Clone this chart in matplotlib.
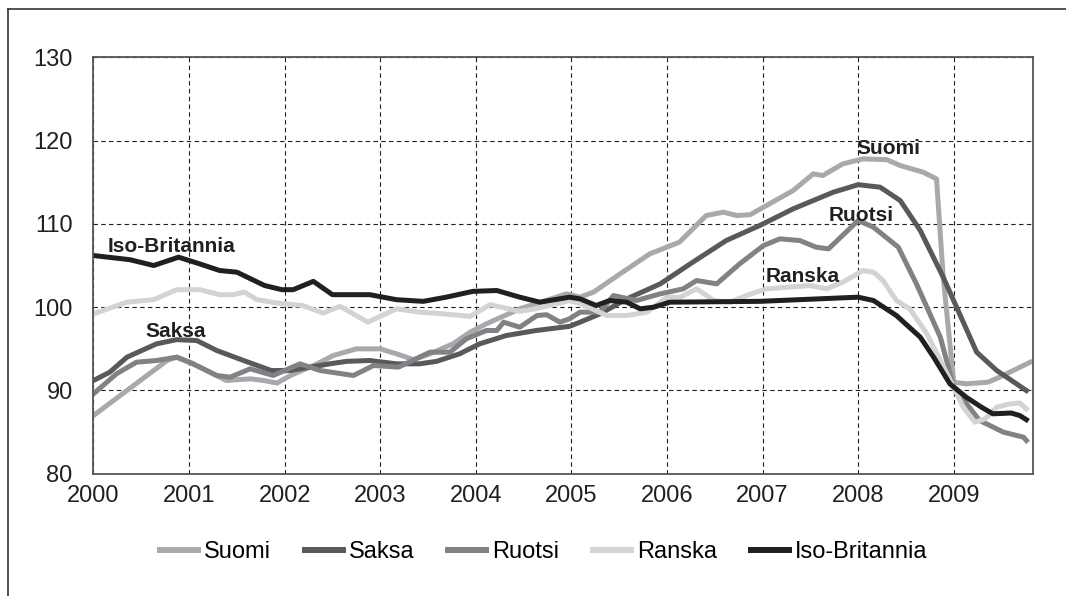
import matplotlib
matplotlib.use("Agg")
import matplotlib.pyplot as plt
from matplotlib.lines import Line2D

plt.rcParams["font.family"] = ["Liberation Sans", "DejaVu Sans"]

# decimal years / index values
fi_t = [2000.0, 2000.77, 2000.87, 2001.01, 2001.39, 2001.64, 2001.78, 2001.92, 2002.06,
        2002.34, 2002.51, 2002.75, 2003.0, 2003.17, 2003.35, 2003.52, 2003.76, 2003.94,
        2004.11, 2004.46, 2004.95, 2005.09, 2005.23, 2005.51, 2005.82, 2006.13, 2006.41,
        2006.59, 2006.73, 2006.87, 2007.32, 2007.53, 2007.63, 2007.84, 2008.05, 2008.30,
        2008.44, 2008.68, 2008.82, 2008.89, 2009.0, 2009.13, 2009.36, 2009.48, 2009.80]
fi_v = [87.0, 93.6, 94.0, 93.4, 91.2, 91.4, 91.2, 90.9, 91.8,
        93.2, 94.2, 95.0, 95.0, 94.4, 93.7, 94.4, 95.6, 97.0,
        98.0, 99.8, 101.6, 101.2, 101.8, 104.0, 106.4, 107.8, 111.0,
        111.4, 111.0, 111.1, 114.0, 116.0, 115.8, 117.2, 117.8, 117.7,
        117.0, 116.2, 115.4, 103.6, 91.0, 90.8, 91.0, 91.6, 93.4]

de_t = [2000.0, 2000.17, 2000.35, 2000.66, 2000.87, 2001.08, 2001.29, 2001.57, 2001.86,
        2002.06, 2002.27, 2002.47, 2002.65, 2002.89, 2003.17, 2003.41, 2003.59, 2003.83,
        2004.04, 2004.32, 2004.63, 2004.98, 2005.09, 2005.30, 2005.58, 2005.93, 2006.27,
        2006.62, 2006.97, 2007.32, 2007.74, 2008.0, 2008.23, 2008.44, 2008.65, 2008.89,
        2009.03, 2009.24, 2009.45, 2009.76]
de_v = [91.2, 92.2, 94.0, 95.6, 96.1, 96.0, 94.8, 93.6, 92.4,
        92.4, 92.8, 93.2, 93.5, 93.6, 93.2, 93.2, 93.5, 94.4,
        95.6, 96.6, 97.2, 97.7, 98.2, 99.2, 101.0, 102.8, 105.4,
        108.0, 109.8, 111.8, 113.8, 114.7, 114.4, 112.8, 109.2, 103.6,
        100.0, 94.6, 92.4, 90.0]

se_t = [2000.0, 2000.24, 2000.45, 2000.66, 2000.87, 2001.04, 2001.29, 2001.43, 2001.64,
        2001.88, 2002.16, 2002.37, 2002.72, 2002.93, 2003.19, 2003.52, 2003.73, 2003.90,
        2004.11, 2004.22, 2004.29, 2004.46, 2004.64, 2004.74, 2004.88, 2004.98, 2005.09,
        2005.30, 2005.44, 2005.68, 2005.93, 2006.17, 2006.31, 2006.52, 2006.76, 2007.01,
        2007.18, 2007.39, 2007.56, 2007.69, 2008.0, 2008.16, 2008.42, 2008.61, 2008.86,
        2009.0, 2009.27, 2009.52, 2009.73, 2009.76]
se_v = [89.6, 92.0, 93.4, 93.6, 94.0, 93.2, 91.8, 91.6, 92.6,
        91.8, 93.2, 92.4, 91.8, 93.0, 92.8, 94.6, 94.6, 96.2,
        97.2, 97.2, 98.2, 97.6, 99.0, 99.1, 98.2, 98.6, 99.4,
        99.4, 101.4, 100.8, 101.6, 102.2, 103.2, 102.8, 105.2, 107.4,
        108.2, 108.0, 107.2, 107.0, 110.4, 109.6, 107.2, 102.8, 96.4,
        90.4, 86.4, 85.0, 84.4, 84.0]

fr_t = [2000.0, 2000.35, 2000.63, 2000.87, 2001.11, 2001.32, 2001.46, 2001.58, 2001.71,
        2001.92, 2002.19, 2002.40, 2002.58, 2002.87, 2003.17, 2003.41, 2003.66, 2003.94,
        2004.15, 2004.46, 2004.62, 2004.98, 2005.10, 2005.37, 2005.58, 2005.79, 2006.0,
        2006.14, 2006.31, 2006.49, 2006.66, 2006.83, 2007.04, 2007.50, 2007.67, 2007.84,
        2008.05, 2008.16, 2008.26, 2008.40, 2008.54, 2008.72, 2008.86, 2009.0, 2009.10,
        2009.22, 2009.33, 2009.45, 2009.59, 2009.69, 2009.76]
fr_v = [99.2, 100.6, 100.9, 102.1, 102.1, 101.5, 101.5, 101.8, 100.9,
        100.5, 100.2, 99.3, 100.1, 98.2, 99.8, 99.4, 99.2, 98.9,
        100.3, 99.5, 99.8, 100.8, 100.4, 99.0, 99.0, 99.4, 101.2,
        101.2, 102.2, 100.8, 100.6, 101.4, 102.2, 102.6, 102.2, 103.0,
        104.4, 104.2, 103.2, 100.8, 99.8, 96.8, 93.6, 90.4, 88.0,
        86.2, 86.6, 88.0, 88.4, 88.5, 87.8]

uk_t = [2000.0, 2000.38, 2000.63, 2000.89, 2001.11, 2001.32, 2001.50, 2001.79, 2001.97,
        2002.09, 2002.30, 2002.50, 2002.89, 2003.17, 2003.45, 2003.69, 2003.97, 2004.22,
        2004.46, 2004.67, 2004.98, 2005.09, 2005.26, 2005.40, 2005.58, 2005.72, 2005.86,
        2006.03, 2006.97, 2008.0, 2008.16, 2008.40, 2008.65, 2008.79, 2008.96, 2009.13,
        2009.29, 2009.41, 2009.60, 2009.69, 2009.76]
uk_v = [106.2, 105.7, 105.0, 106.0, 105.2, 104.4, 104.2, 102.6, 102.1,
        102.1, 103.1, 101.5, 101.5, 100.9, 100.7, 101.2, 101.9, 102.0,
        101.2, 100.6, 101.2, 101.0, 100.2, 100.8, 100.6, 99.8, 100.0,
        100.6, 100.7, 101.2, 100.8, 99.0, 96.4, 94.0, 90.8, 89.2,
        88.0, 87.2, 87.3, 87.0, 86.5]

names = ["Suomi", "Saksa", "Ruotsi", "Ranska", "Iso-Britannia"]
series = [(fi_t, fi_v), (de_t, de_v), (se_t, se_v), (fr_t, fr_v), (uk_t, uk_v)]
colors = ["#a7a9ac", "#58595b", "#808285", "#d1d3d4", "#231f20"]

# in-chart labels: (text, x, baseline y)
labels = [("Suomi", 2008.32, 118.4), ("Ruotsi", 2008.03, 110.4), ("Ranska", 2007.42, 103.0),
          ("Iso-Britannia", 2000.82, 106.6), ("Saksa", 2000.86, 96.4)]

years = list(range(2000, 2010))
yticks = [80, 90, 100, 110, 120, 130]

fig = plt.figure(figsize=(10.66, 5.96), dpi=100)
ax = fig.add_axes([0.0877, 0.205, 0.8814, 0.699])

for (t, v), name, c in zip(series, names, colors):
    ax.plot(t, v, color=c, lw=3.6, label=name, solid_joinstyle="round")

for txt, x, y in labels:
    ax.text(x, y, txt, ha="center", va="baseline", fontsize=15, fontweight="bold",
            color="#231f20")

ax.set_xlim(2000, 2009.83)
ax.set_ylim(80, 130)
ax.set_xticks(years)
ax.set_yticks(yticks)
ax.tick_params(length=0, labelsize=17, colors="#231f20")
ax.tick_params(axis="x", pad=8)
ax.tick_params(axis="y", pad=15)
ax.grid(True, color="#231f20", lw=0.8, ls=(0, (4, 3)))
ax.set_axisbelow(True)
for s in ax.spines.values():
    s.set_color("#555555")
    s.set_linewidth(1.3)

leg = fig.legend(loc="center", bbox_to_anchor=(0.51, 0.074), ncol=5, frameon=False,
                 fontsize=17, handlelength=1.6, handletextpad=0.25, columnspacing=1.45)
for h in leg.get_lines():
    h.set_linewidth(4.3)

# partial outer frame (top and left edges)
fig.add_artist(Line2D([0.0075, 0.0075], [0.0, 0.985], color="#333333", lw=1.2))
fig.add_artist(Line2D([0.0075, 1.0], [0.985, 0.985], color="#333333", lw=1.2))

fig.savefig("out.png", dpi=100)
